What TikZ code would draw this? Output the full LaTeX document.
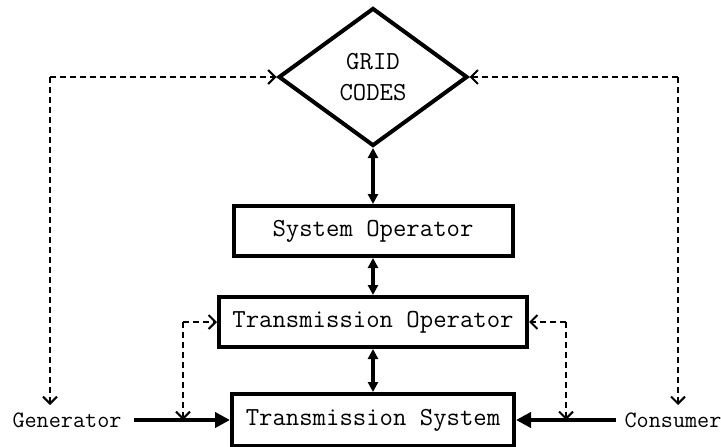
\documentclass[tikz,border=0pt]{standalone}
\usetikzlibrary{shapes.geometric,arrows.meta}
\begin{document}
\begin{tikzpicture}[x=1pt,y=-1pt,
  box/.style={draw,line width=4pt,minimum width=#1,minimum height=50pt,inner sep=0pt,font=\ttfamily\fontsize{26}{30}\selectfont},
  side/.style={font=\ttfamily\fontsize{23.5}{26}\selectfont,inner sep=0pt},
  dbl/.style={line width=3.2pt,{Triangle[length=10pt,width=10pt]}-{Triangle[length=10pt,width=10pt]}},
  feed/.style={line width=4pt,-{Triangle[length=15pt,width=15pt]}},
  dashline/.style={line width=2pt,dash pattern=on 6pt off 4pt},
  dtip/.style={-{Straight Barb[length=7pt,width=14pt,line width=2pt]}}
]
\useasboundingbox (0,0) rectangle (721,447);
\node[draw,diamond,line width=4pt,minimum width=189pt,minimum height=138pt,inner sep=0pt,aspect=1.37,
  font=\ttfamily\fontsize{26}{31}\selectfont,align=center] (gc) at (373,77) {GRID\\CODES};
\node[box=279pt] (so) at (373,231) {System Operator};
\node[box=308pt] (to) at (373,322) {Transmission Operator};
\node[box=282pt,minimum height=52pt] (ts) at (373,420) {Transmission System};
\node[side] (gen) at (67,420) {Generator};
\node[side] (con) at (673,420) {Consumer};
\coordinate (ga) at (50,77);
\coordinate (gb) at (50,405);
\coordinate (ca) at (678,77);
\coordinate (cb) at (678,405);
\coordinate (gl) at (134,420);
\coordinate (cl) at (616,420);
\coordinate (tl) at (183,322);
\coordinate (tlb) at (183,420);
\coordinate (tr) at (566,322);
\coordinate (trb) at (566,420);
\draw[dbl] (gc.south) -- (so.north);
\draw[dbl] (so.south) -- (to.north);
\draw[dbl] (to.south) -- (ts.north);
\draw[feed] (gl) -- (ts.west);
\draw[feed] (cl) -- (ts.east);
\draw[dashline,dtip] (ga) -- (gc.west);
\draw[dashline,dtip] (ga) -- (gb);
\draw[dashline,dtip] (ca) -- (gc.east);
\draw[dashline,dtip] (ca) -- (cb);
\draw[dashline,dtip] (tl) -- (to.west);
\draw[dashline,dtip] (tl) -- (tlb);
\draw[dashline,dtip] (tr) -- (to.east);
\draw[dashline,dtip] (tr) -- (trb);
\end{tikzpicture}
\end{document}
